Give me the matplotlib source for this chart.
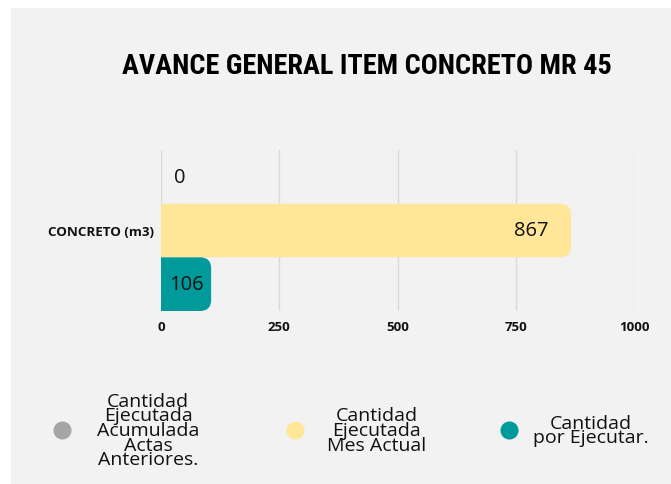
import matplotlib
matplotlib.use("Agg")
import matplotlib.pyplot as plt
from matplotlib.patches import FancyBboxPatch, Rectangle
from matplotlib.lines import Line2D

# ---- data ----
title = "AVANCE GENERAL ITEM CONCRETO MR 45"
categories = ["CONCRETO (m3)"]
series_names = ["Cantidad\nEjecutada\nAcumulada\nActas\nAnteriores.",
                "Cantidad\nEjecutada\nMes Actual",
                "Cantidad\npor Ejecutar."]
series_values = [[0], [867], [106]]
series_colors = ["#A6A6A6", "#FFE699", "#009A9A"]
x_ticks = [0, 250, 500, 750, 1000]

W, H = 671, 485
fig = plt.figure(figsize=(W / 100, H / 100), dpi=100)
fig.patch.set_facecolor("white")
fig.patches.append(Rectangle((11 / W, 0), 1 - 11 / W, 1 - 9 / H, transform=fig.transFigure,
                             facecolor="#F2F2F2", edgecolor="none", zorder=-10))

ax = fig.add_axes([161 / W, 1 - 312 / H, (634 - 161) / W, (312 - 151) / H])
ax.set_facecolor("none")

n = len(series_values)
offsets = [i - (n - 1) / 2 for i in range(n)]
ax.set_xlim(0, 1000)
ax.set_ylim(1.5, -1.5)

px_x = (634 - 161) / 1000.0  # px per x unit
px_y = (312 - 151) / 3.0      # px per y unit
r_px = 11
r_x = r_px / px_x
aspect = (r_px / px_y) / r_x

for vals, off, col in zip(series_values, offsets, series_colors):
    bars = ax.barh([c + off for c in range(len(categories))], vals, height=1.0, color="none")
    for b, v in zip(bars, vals):
        if v <= 0:
            continue
        y0 = b.get_y()
        p = FancyBboxPatch((-3 * r_x, y0), v + 3 * r_x, b.get_height(),
                           boxstyle=f"round,pad=0,rounding_size={r_x}",
                           mutation_aspect=aspect, facecolor=col, edgecolor="none",
                           transform=ax.transData, clip_on=True, zorder=2)
        ax.add_patch(p)

lab_font = ["Open Sans", "Noto Sans", "DejaVu Sans"]
vfs = 14.5
txt_col = "#111111"
for si, (vals, off) in enumerate(zip(series_values, offsets)):
    for ci, v in enumerate(vals):
        yy = ci + off
        if si == 0:
            ax.annotate(f"{v}", (0, yy), xytext=(9.5, 0), textcoords="offset points",
                        ha="left", va="center", fontsize=vfs, family=lab_font, color=txt_col, zorder=3)
        elif si == 1:
            ax.annotate(f"{v}", (v, yy), xytext=(-16.5, 0), textcoords="offset points",
                        ha="right", va="center", fontsize=vfs, family=lab_font, color=txt_col, zorder=3)
        else:
            ax.annotate(f"{v}", (v / 2, yy), xytext=(0, 0), textcoords="offset points",
                        ha="center", va="center", fontsize=vfs, family=lab_font, color=txt_col, zorder=3)

ax.set_xticks(x_ticks)
ax.set_xticklabels([str(t) for t in x_ticks], fontsize=9.5, fontweight="bold", family=lab_font)
ax.set_yticks(range(len(categories)))
ax.set_yticklabels(categories, fontsize=9.6, fontweight="bold", family=lab_font)
ax.tick_params(axis="x", length=0, pad=6.5, colors="#111111")
ax.tick_params(axis="y", length=0, pad=5, colors="#111111")
ax.grid(axis="x", color="#D9D9D9", linewidth=1, zorder=0)
ax.set_axisbelow(True)
for s in ax.spines.values():
    s.set_visible(False)

t = fig.text(367 / W, 1 - 66 / H, title, ha="center", va="center",
             family=["Liberation Sans Narrow", "Roboto Condensed", "DejaVu Sans Condensed",
                     "Liberation Sans", "DejaVu Sans"],
             fontweight="bold", fontsize=22, color="black")
r = fig.canvas.get_renderer()
wpx = t.get_window_extent(r).width
t.set_fontsize(22 * 489.0 / wpx)

# legend entries, each placed at its own spot (layout)
leg_fs = 14
leg_marker_x = [62, 295, 509]
leg_pads = [0.8, 0.65, 0.25]
half_handle_px = leg_fs * 100 / 72.0  # handlelength 2 em -> half = 1 em
for name, col, mx, pad in zip(series_names, series_colors, leg_marker_x, leg_pads):
    h = Line2D([], [], marker="o", linestyle="none", markersize=13,
               markerfacecolor=col, markeredgecolor="none")
    leg = fig.legend([h], [name], loc="center left",
                     bbox_to_anchor=((mx - half_handle_px) / W, 1 - 431 / H),
                     frameon=False, prop={"family": lab_font, "size": leg_fs},
                     handletextpad=pad, labelspacing=0, borderpad=0, borderaxespad=0)
    for tx in leg.get_texts():
        tx.set_multialignment("center")
        tx.set_linespacing(0.76)
        tx.set_color(txt_col)

fig.savefig("out.png", dpi=100)
